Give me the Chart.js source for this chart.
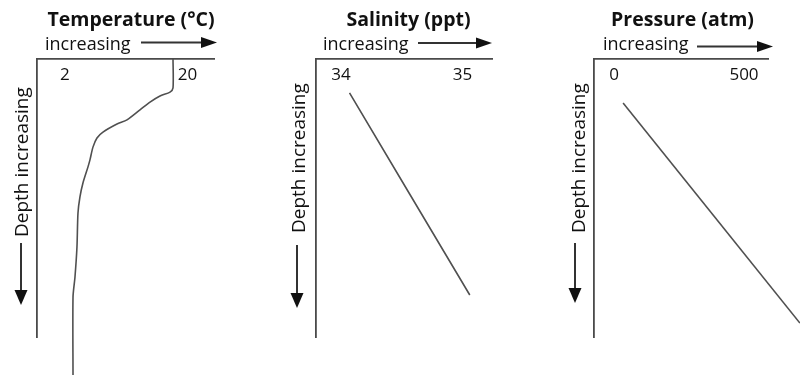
<!DOCTYPE html>
<html>
<head>
<meta charset="utf-8">
<script src="https://cdn.jsdelivr.net/npm/chart.js@4.4.0/dist/chart.umd.min.js"></script>
<style>
html,body{margin:0;padding:0;background:#fff;}
#wrap{position:relative;width:800px;height:384px;overflow:hidden;background:#fff;}
.pane{position:absolute;top:0;height:384px;}
canvas{display:block;}
</style>
</head>
<body>
<div id="wrap">
  <div class="pane" style="left:0px;width:260px"><canvas id="c1" width="260" height="384"></canvas></div>
  <div class="pane" style="left:260px;width:270px"><canvas id="c2" width="270" height="384"></canvas></div>
  <div class="pane" style="left:530px;width:270px"><canvas id="c3" width="270" height="384"></canvas></div>
</div>
<script>
// ---- data ----
const panelTitles = ['Temperature (°C)', 'Salinity (ppt)', 'Pressure (atm)'];
const axisWord = 'increasing';
const depthText = 'Depth increasing';

const tempTicks = [2, 20];
const salinityTicks = [34, 35];
const pressureTicks = [0, 500];

// temperature profile (°C) vs relative depth (0 = surface)
const tempValues = [17.87, 17.87, 17.43, 15.96, 14.49, 13.02, 11.11, 9.64, 7.58, 6.70, 6.11, 5.67, 5.38, 4.64, 4.20, 3.91, 3.76, 3.47, 3.18, 3.18];
const tempDepth  = [0, 10.4, 11.9, 13.3, 15.5, 18.3, 21.9, 23.4, 26.3, 28.4, 31.7, 36.3, 38.8, 44.6, 49.6, 55.4, 67.6, 78.4, 85.6, 113.7];

// salinity (ppt) vs relative depth
const salinityValues = [34.07, 35.06];
const salinityDepth  = [12.2, 84.9];

// pressure (atm) vs relative depth
const pressureValues = [35, 715];
const pressureDepth  = [15.8, 95.0];

// ---- drawing helpers ----
const FONT = '"Open Sans", "Noto Sans", sans-serif';
const INK = '#111';
const AXIS = '#4a4a4a';

function arrowH(ctx, x1, x2, y) {
  const head = 16, hh = 5.5;
  ctx.strokeStyle = '#333';
  ctx.lineWidth = 2;
  ctx.beginPath(); ctx.moveTo(x1, y); ctx.lineTo(x2 - head + 1, y); ctx.stroke();
  ctx.fillStyle = INK;
  ctx.beginPath(); ctx.moveTo(x2, y); ctx.lineTo(x2 - head, y - hh); ctx.lineTo(x2 - head, y + hh); ctx.closePath(); ctx.fill();
}
function arrowV(ctx, x, y1, y2) {
  const head = 15, hh = 6.5;
  ctx.strokeStyle = '#333';
  ctx.lineWidth = 2;
  ctx.beginPath(); ctx.moveTo(x, y1); ctx.lineTo(x, y2 - head + 1); ctx.stroke();
  ctx.fillStyle = INK;
  ctx.beginPath(); ctx.moveTo(x, y2); ctx.lineTo(x - hh, y2 - head); ctx.lineTo(x + hh, y2 - head); ctx.closePath(); ctx.fill();
}

const deco = {
  id: 'panelDeco',
  afterDraw(chart, args, o) {
    const ctx = chart.ctx;
    const ox = o.offset;
    ctx.save();
    ctx.fillStyle = INK;
    ctx.textBaseline = 'alphabetic';
    // panel title
    ctx.font = 'bold 19.5px ' + FONT;
    ctx.textAlign = 'center';
    ctx.fillText(o.title, o.titleX - ox, 25.5);
    // "increasing" + arrow
    ctx.font = '18px ' + FONT;
    ctx.textAlign = 'left';
    ctx.fillText(axisWord, o.wordX - ox, 49.5);
    arrowH(ctx, o.ax1 - ox, o.ax2 - ox, o.ay);
    // vertical "Depth increasing" + arrow
    ctx.save();
    ctx.translate(o.dx - ox, o.dBottom);
    ctx.rotate(-Math.PI / 2);
    ctx.fillStyle = INK;
    ctx.font = '19px ' + FONT;
    ctx.textAlign = 'left';
    ctx.textBaseline = 'alphabetic';
    ctx.fillText(depthText, 0, 0);
    ctx.restore();
    arrowV(ctx, o.vx - ox, o.vy1, o.vy2);
    ctx.restore();
  }
};

function makeChart(id, xs, ys, ticks, xmin, xmax, pad, deco_opts) {
  const pts = xs.map((x, i) => ({x: x, y: ys[i]}));
  return new Chart(document.getElementById(id), {
    type: 'scatter',
    data: {
      datasets: [{
        data: pts,
        showLine: true,
        borderColor: '#505050',
        borderWidth: 1.6,
        pointRadius: 0,
        pointHoverRadius: 0,
        tension: 0.25,
        fill: false,
        clip: false
      }]
    },
    options: {
      responsive: false,
      animation: false,
      events: [],
      layout: {padding: pad, autoPadding: false},
      plugins: {
        legend: {display: false},
        tooltip: {enabled: false},
        title: {display: false},
        panelDeco: deco_opts
      },
      scales: {
        x: {
          type: 'linear',
          position: 'top',
          min: xmin, max: xmax,
          afterBuildTicks: s => { s.ticks = ticks.map(v => ({value: v})); },
          afterFit: s => { s.height = 0; },
          grid: {display: false, drawTicks: false},
          border: {display: true, color: AXIS, width: 1.8},
          ticks: {
            mirror: true, padding: 6, autoSkip: false, maxRotation: 0,
            color: INK, font: {family: FONT, size: 17}
          }
        },
        y: {
          type: 'linear',
          reverse: true,
          min: 0, max: 100,
          afterFit: s => { s.width = 0; },
          grid: {display: false, drawTicks: false},
          border: {display: true, color: AXIS, width: 1.8},
          ticks: {display: false}
        }
      }
    },
    plugins: [deco]
  });
}

makeChart('c1', tempValues, tempDepth, tempTicks, -2.11, 23.89,
  {left: 37, right: 46, top: 59, bottom: 47},
  {offset: 0, title: panelTitles[0], titleX: 131, wordX: 45, ax1: 141, ax2: 217, ay: 42.5,
   dx: 28, dBottom: 237, vx: 21, vy1: 243, vy2: 305});

makeChart('c2', salinityValues, salinityDepth, salinityTicks, 33.794, 35.243,
  {left: 56, right: 38, top: 59, bottom: 47},
  {offset: 260, title: panelTitles[1], titleX: 408.5, wordX: 323, ax1: 418, ax2: 492, ay: 43,
   dx: 305, dBottom: 233, vx: 297, vy1: 245, vy2: 308});

makeChart('c3', pressureValues, pressureDepth, pressureTicks, -76.9, 592.3,
  {left: 64, right: 32, top: 59, bottom: 47},
  {offset: 530, title: panelTitles[2], titleX: 682.5, wordX: 603, ax1: 697, ax2: 773, ay: 46.5,
   dx: 585, dBottom: 233, vx: 575, vy1: 243, vy2: 303});
</script>
</body>
</html>
